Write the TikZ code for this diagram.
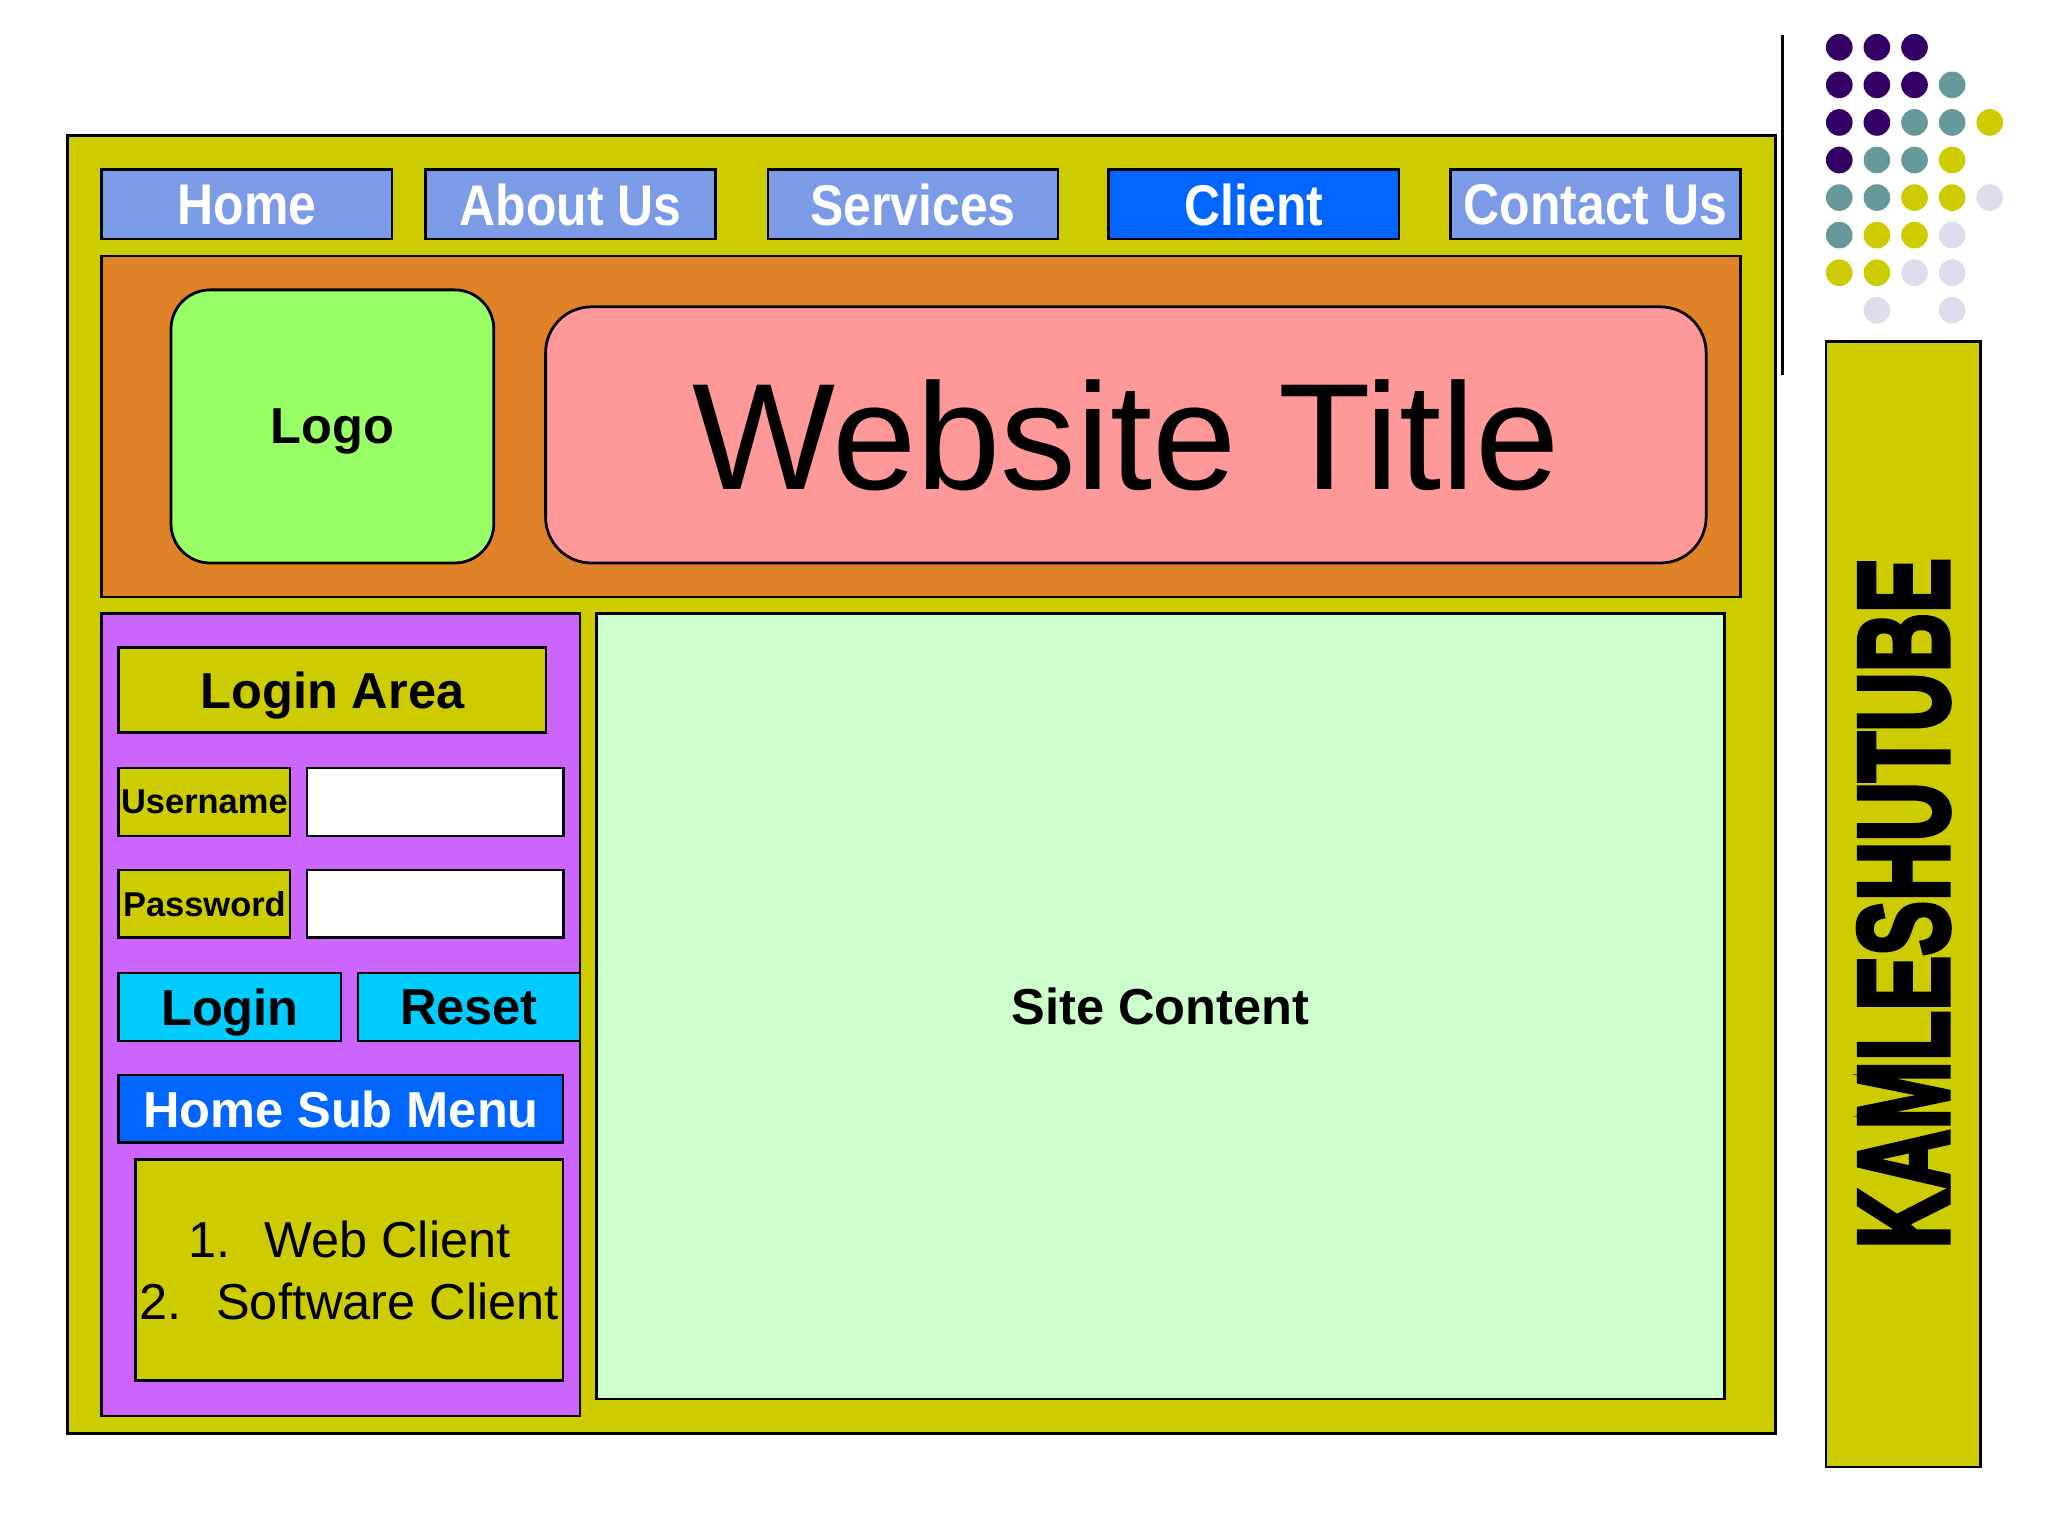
\documentclass[tikz,border=0pt]{standalone}
\usepackage{fontspec}
\usepackage{graphicx}
\setmainfont{Liberation Sans}
\newfontfamily\heavyfont{Liberation Sans Bold}[FakeBold=4]
\usetikzlibrary{positioning}

\definecolor{frameyel}{HTML}{CCCC00}
\definecolor{navblue}{HTML}{7B9BE6}
\definecolor{activeblue}{HTML}{0066FF}
\definecolor{headorange}{HTML}{E08328}
\definecolor{logogreen}{HTML}{99FF66}
\definecolor{titlepink}{HTML}{FF9999}
\definecolor{sidepurple}{HTML}{CC66FF}
\definecolor{btncyan}{HTML}{00CCFF}
\definecolor{contentgreen}{HTML}{CCFFCC}
\definecolor{dotpurple}{HTML}{330066}
\definecolor{dotteal}{HTML}{669999}
\definecolor{dotlav}{HTML}{DDDDEE}

\newcommand{\navtext}[1]{\scalebox{0.87}[1]{#1}}

\tikzset{
  box/.style={draw, line width=0.6pt, rectangle, inner sep=0pt, outer sep=0pt},
  navbtn/.style={box, fill=navblue, minimum width=2.22cm, minimum height=0.53cm,
    text=white, text depth=-1pt, font=\fontsize{12.5}{14}\selectfont\bfseries},
  fieldlabel/.style={box, fill=frameyel, minimum width=1.31cm, minimum height=0.52cm,
    font=\fontsize{7.5}{9}\selectfont\bfseries},
  inputfield/.style={box, fill=white, minimum width=1.96cm, minimum height=0.52cm},
  formbtn/.style={box, fill=btncyan, minimum width=1.70cm, minimum height=0.52cm,
    text depth=0pt, font=\fontsize{11}{13}\selectfont\bfseries}
}

\begin{document}
\begin{tikzpicture}[x=0.01cm, y=-0.01cm]
  \fill[white] (0,0) rectangle (1568,1176);
  \useasboundingbox (0,0) rectangle (1568,1176);

  % page frame
  \node[box, fill=frameyel, minimum width=13.07cm, minimum height=9.93cm] (frame) at (705.5,600.5) {};

  % menu bar
  \node[navbtn] (home) at (189,156.5) {\navtext{Home}};
  \node[navbtn] (about) at (437,156.5) {\navtext{About Us}};
  \node[navbtn] (services) at (699,156.5) {\navtext{Services}};
  \node[navbtn, fill=activeblue] (client) at (960,156.5) {\navtext{Client}};
  \node[navbtn] (contact) at (1221.5,156.5) {\navtext{Contact Us}};

  % header
  \node[box, fill=headorange, minimum width=12.54cm, minimum height=2.61cm] (header) at (705,326.5) {};
  \node[box, fill=logogreen, rounded corners=0.3cm, minimum width=2.47cm, minimum height=2.09cm,
    text depth=0pt, font=\fontsize{11}{13}\selectfont\bfseries] (logo) at (254.5,326.5) {Logo};
  \node[box, fill=titlepink, rounded corners=0.35cm, minimum width=8.88cm, minimum height=1.96cm,
    font=\fontsize{33}{38}\selectfont] (title) at (862,333) {Website Title};

  % side panel
  \node[box, fill=sidepurple, minimum width=3.66cm, minimum height=6.14cm] (side) at (261,777) {};
  \node[box, fill=frameyel, minimum width=3.27cm, minimum height=0.65cm,
    text depth=0pt, font=\fontsize{11}{13}\selectfont\bfseries] (loginarea) at (254.5,528.5) {Login Area};
  \node[fieldlabel] (user) at (156.5,614) {Username};
  \node[inputfield, right=0.13cm of user] (userfield) {};
  \node[fieldlabel, below=0.26cm of user] (pass) {Password};
  \node[inputfield, right=0.13cm of pass] (passfield) {};
  \node[formbtn] (login) at (176,771) {Login};
  \node[formbtn, right=0.13cm of login] (reset) {Reset};
  \node[box, fill=activeblue, text=white, minimum width=3.40cm, minimum height=0.52cm,
    text depth=0pt, font=\fontsize{11}{13}\selectfont\bfseries] (submenu) at (261,849) {Home Sub Menu};
  \node[box, fill=frameyel, minimum width=3.27cm, minimum height=1.69cm, align=center,
    font=\fontsize{11}{13.4}\selectfont] (sublist) at (267.5,972.5)
    {1.\hspace{0.68em}Web Client\\2.\hspace{0.68em}Software Client};

  % content
  \node[box, fill=contentgreen, minimum width=8.63cm, minimum height=6.01cm,
    font=\fontsize{11}{13}\selectfont\bfseries] (content) at (888.5,770.5) {Site Content};

  % side banner
  \node[box, fill=frameyel, minimum width=1.18cm, minimum height=8.61cm] (banner) at (1457,692.5) {};
  \node[rotate=90, inner sep=0pt, font=\fontsize{28}{30}\heavyfont] (bannertext) at (1457.5,691.5)
    {\scalebox{0.64}[1]{KAMLESHUTUBE}};

  \coordinate (ruletop) at (1365,27);
  \coordinate (rulebot) at (1365,287);
  \draw[line width=0.6pt] (ruletop) -- (rulebot);

  % dots
  \foreach \c/\r/\col in {0/0/dotpurple, 1/0/dotpurple, 2/0/dotpurple,
      0/1/dotpurple, 1/1/dotpurple, 2/1/dotpurple, 3/1/dotteal,
      0/2/dotpurple, 1/2/dotpurple, 2/2/dotteal, 3/2/dotteal, 4/2/frameyel,
      0/3/dotpurple, 1/3/dotteal, 2/3/dotteal, 3/3/frameyel,
      0/4/dotteal, 1/4/dotteal, 2/4/frameyel, 3/4/frameyel, 4/4/dotlav,
      0/5/dotteal, 1/5/frameyel, 2/5/frameyel, 3/5/dotlav,
      0/6/frameyel, 1/6/frameyel, 2/6/dotlav, 3/6/dotlav,
      1/7/dotlav, 3/7/dotlav}
    \fill[\col] ({1408.2+28.8*\c},{36.2+28.77*\r}) circle[radius=0.102cm];
\end{tikzpicture}
\end{document}
